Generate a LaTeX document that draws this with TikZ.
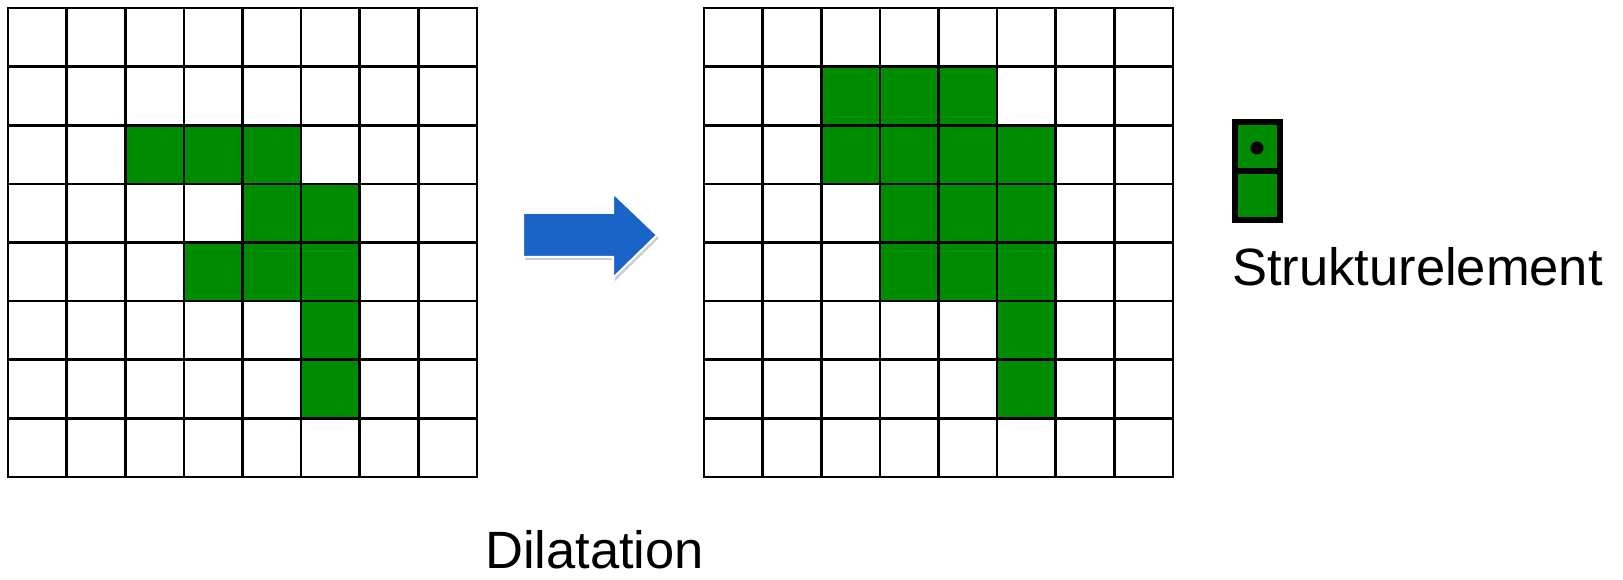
\documentclass[tikz,border=0pt]{standalone}
\usepackage{fontspec}
\setmainfont{Liberation Sans}
\usetikzlibrary{shadows}
\definecolor{cellgreen}{RGB}{0,140,0}
\definecolor{arrowblue}{RGB}{26,100,200}
\begin{document}
\begin{tikzpicture}[x=1pt,y=-1pt,
  gridline/.style={line width=2.6pt, black, line cap=rect},
  cellfill/.style={fill=cellgreen},
  lbl/.style={anchor=base west, inner sep=0pt, font=\fontsize{52.5}{63}\selectfont},
  bigarrow/.style={fill=arrowblue, draw=white, line width=2pt,
    drop shadow={shadow xshift=2pt, shadow yshift=-3pt, opacity=0.2, fill=black}}]
\useasboundingbox (0,0) rectangle (1623,580);
\def\cs{58.625}
% left grid
\foreach \r/\c in {2/2,2/3,2/4,3/4,3/5,4/3,4/4,4/5,5/5,6/5}
  \fill[cellfill] ({8+\c*\cs},{8+\r*\cs}) rectangle ++(\cs,\cs);
\foreach \i in {0,...,8} {
  \draw[gridline] ({8+\i*\cs},8) -- ({8+\i*\cs},477);
  \draw[gridline] (8,{8+\i*\cs}) -- (477,{8+\i*\cs});
}
% right grid
\foreach \r/\c in {1/2,1/3,1/4,2/2,2/3,2/4,2/5,3/3,3/4,3/5,4/3,4/4,4/5,5/5,6/5}
  \fill[cellfill] ({704+\c*\cs},{8+\r*\cs}) rectangle ++(\cs,\cs);
\foreach \i in {0,...,8} {
  \draw[gridline] ({704+\i*\cs},8) -- ({704+\i*\cs},477);
  \draw[gridline] (704,{8+\i*\cs}) -- (1173,{8+\i*\cs});
}
% arrow
\path[bigarrow] (523,213) -- (613,213) -- (613,193) -- (657,235) -- (613,278) -- (613,257) -- (523,257) -- cycle;
% structuring element
\filldraw[fill=cellgreen, draw=black, line width=6pt] (1235,122) rectangle (1280,220);
\draw[line width=6pt] (1235,171) -- (1280,171);
\fill[black] (1257,148) circle (6.5);
% labels
\node[lbl] (se) at (1232,286) {Strukturelement};
\node[lbl] (dil) at (485,568) {Dilatation};
\end{tikzpicture}
\end{document}
